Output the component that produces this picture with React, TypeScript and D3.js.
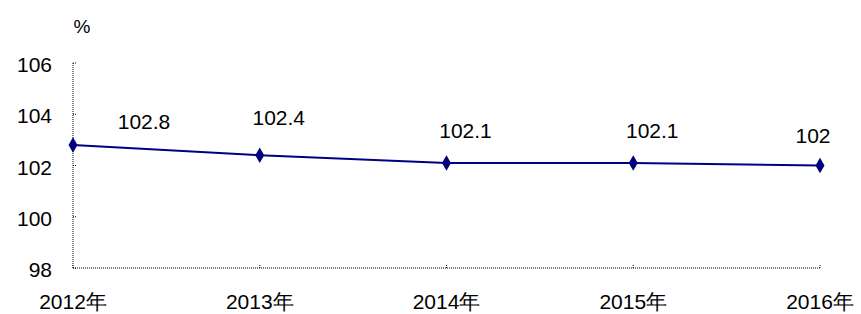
import React from "react";
import * as d3 from "d3";

const categories = ["2012年", "2013年", "2014年", "2015年", "2016年"];
const values = [102.8, 102.4, 102.1, 102.1, 102];
const valueLabels = ["102.8", "102.4", "102.1", "102.1", "102"];
const yTicks = [98, 100, 102, 104, 106];
const labelDx = [71, 19, 19, 19, -7];
const labelDy = [-16, -30, -25, -25, -23];

export default function App() {
  const W = 861, H = 314;
  const left = 73, right = 820, top = 63, bottom = 268;
  const x = d3.scalePoint<string>().domain(categories).range([left, right]);
  const y = d3.scaleLinear().domain([98, 106]).range([bottom, top]);
  const line = d3.line<number>().x((_, i) => x(categories[i])!).y((d) => y(d));
  const font = "Arial, 'Liberation Sans', sans-serif";
  const diamond = d3.symbol().type(d3.symbolDiamond).size(70)();
  return (
    <svg width={W} height={H} style={{ position: "absolute", left: 0, top: 0, background: "#fff" }} fontFamily={font}>
      <text x={82} y={33} fontSize={19} textAnchor="middle" fill="#000">%</text>
      <line x1={left} x2={left} y1={top} y2={bottom} stroke="#000" strokeDasharray="1,1" />
      <line x1={left} x2={right} y1={bottom} y2={bottom} stroke="#000" strokeDasharray="1,1" />
      {yTicks.map((t) => (
        <g key={t}>
          <line x1={left} x2={left + 4} y1={y(t)} y2={y(t)} stroke="#000" strokeDasharray="1,1" />
          <text x={52} y={y(t) + 9} fontSize={21} textAnchor="end" fill="#000">{t}</text>
        </g>
      ))}
      {categories.map((c) => (
        <g key={c}>
          <line x1={x(c)!} x2={x(c)!} y1={bottom} y2={bottom - 4} stroke="#000" strokeDasharray="1,1" />
          <text x={x(c)!} y={bottom + 41} fontSize={21} textAnchor="middle" fill="#000">{c}</text>
        </g>
      ))}
      <path d={line(values)!} fill="none" stroke="#000080" strokeWidth={2} />
      {values.map((v, i) => (
        <g key={i}>
          <path d={diamond!} transform={`translate(${x(categories[i])},${y(v)})`} fill="#000080" />
          <text x={x(categories[i])! + labelDx[i]} y={y(v) + labelDy[i]} fontSize={21} textAnchor="middle" fill="#000">{valueLabels[i]}</text>
        </g>
      ))}
    </svg>
  );
}
